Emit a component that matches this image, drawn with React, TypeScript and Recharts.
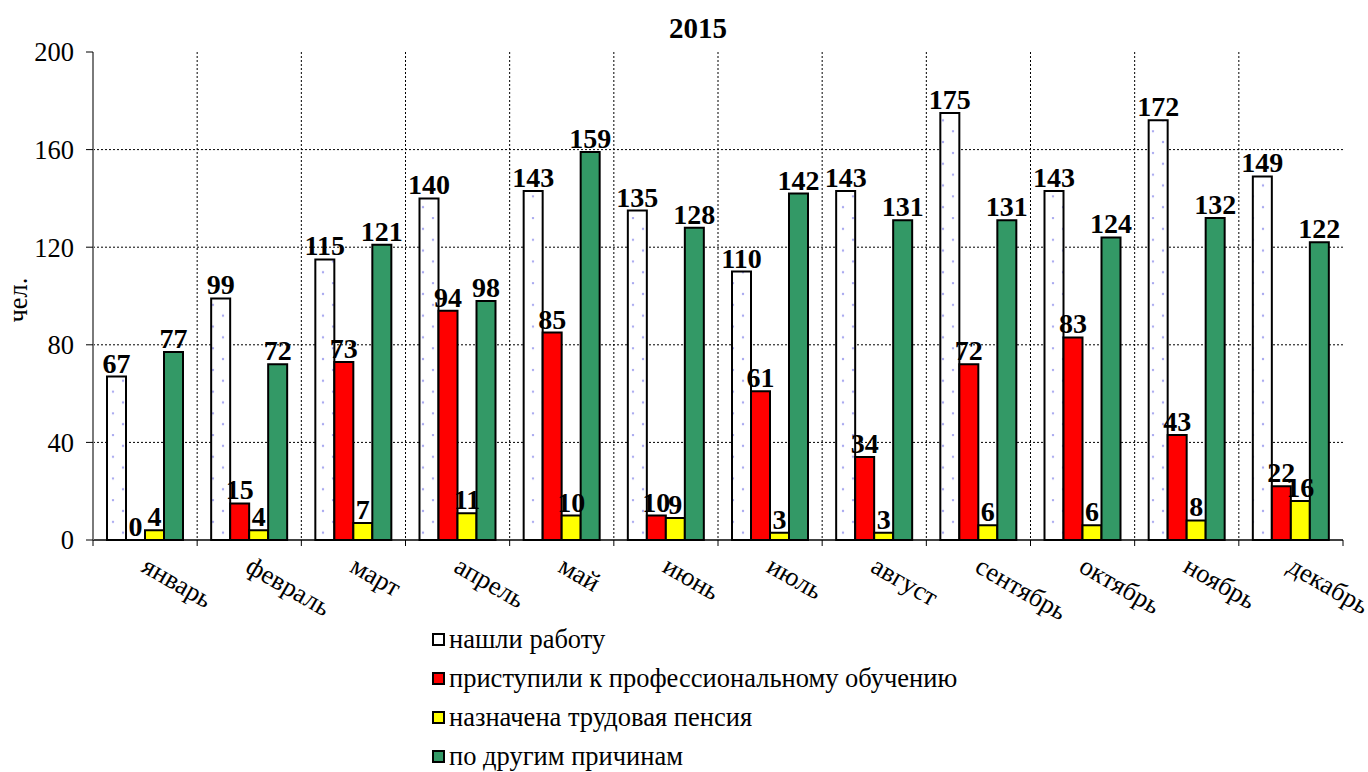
import { BarChart, Bar, XAxis, YAxis, CartesianGrid, LabelList } from "recharts";

const months = [
  "январь",
  "февраль",
  "март",
  "апрель",
  "май",
  "июнь",
  "июль",
  "август",
  "сентябрь",
  "октябрь",
  "ноябрь",
  "декабрь",
];
const foundJob = [67, 99, 115, 140, 143, 135, 110, 143, 175, 143, 172, 149];
const training = [0, 15, 73, 94, 85, 10, 61, 34, 72, 83, 43, 22];
const pension = [4, 4, 7, 11, 10, 9, 3, 3, 6, 6, 8, 16];
const other = [77, 72, 121, 98, 159, 128, 142, 131, 131, 124, 132, 122];
const yTicks = [0, 40, 80, 120, 160, 200];

const series = [
  { key: "found", name: "нашли работу", color: "url(#dots)", swatch: "#ffffff" },
  { key: "training", name: "приступили к профессиональному обучению", color: "#ff0000", swatch: "#ff0000" },
  { key: "pension", name: "назначена трудовая пенсия", color: "#ffff00", swatch: "#ffff00" },
  { key: "other", name: "по другим причинам", color: "#339966", swatch: "#339966" },
];

const data = months.map((m, i) => ({
  m,
  found: foundJob[i],
  training: training[i],
  pension: pension[i],
  other: other[i],
}));

const W = 1368;
const H = 772;
const PLOT_RIGHT = 1343;
const PLOT_LEFT = 93;
const PLOT_TOP = 52;
const PLOT_BOTTOM = 540;
const BAND = (PLOT_RIGHT - PLOT_LEFT) / months.length;
const FONT = "Liberation Serif";
const FS = 26.5;

// zero values still get a (practically invisible) bar so the "0" label is drawn
const zeroSize = (v: any) => (v === 0 ? 0.01 : 0);

function MonthTick(props: any) {
  const { x, payload } = props;
  const i = months.indexOf(payload.value);
  const tx = x - 5;
  const ty = PLOT_BOTTOM + 31;
  return (
    <g>
      <line x1={x - BAND / 2} x2={x - BAND / 2} y1={PLOT_BOTTOM} y2={PLOT_BOTTOM + 6} stroke="#000" />
      {i === months.length - 1 && (
        <line x1={x + BAND / 2} x2={x + BAND / 2} y1={PLOT_BOTTOM} y2={PLOT_BOTTOM + 6} stroke="#000" />
      )}
      <text
        x={tx}
        y={ty}
        transform={`rotate(30 ${tx} ${ty})`}
        style={{ fontFamily: FONT, fontSize: FS }}
        fill="#000"
      >
        {payload.value}
      </text>
    </g>
  );
}

export default function App() {
  return (
    <div
      style={{
        position: "absolute",
        left: 0,
        top: 0,
        width: W,
        height: H,
        background: "#fff",
        fontFamily: FONT,
        overflow: "hidden",
      }}
    >
      <svg width={0} height={0} style={{ position: "absolute" }}>
        <defs>
          <pattern id="dots" patternUnits="userSpaceOnUse" width={20} height={21.7}>
            <rect width={20} height={21.7} fill="#ffffff" />
            <circle cx={13} cy={1.1} r={1.2} fill="#a8a8f0" />
            <circle cx={3} cy={11.9} r={1.2} fill="#a8a8f0" />
          </pattern>
        </defs>
      </svg>

      {/* title */}
      <div
        style={{
          position: "absolute",
          left: 0,
          width: 1396,
          top: 12,
          textAlign: "center",
          fontWeight: "bold",
          fontSize: 29,
          lineHeight: "32px",
        }}
      >
        2015
      </div>

      {/* y axis title */}
      <div
        style={{
          position: "absolute",
          left: 18,
          top: 300,
          fontSize: FS,
          lineHeight: "30px",
          transform: "translate(-50%, -50%) rotate(-90deg)",
          whiteSpace: "nowrap",
        }}
      >
        чел.
      </div>

      <BarChart
        width={W}
        height={H}
        data={data}
        margin={{ top: PLOT_TOP, right: W - PLOT_RIGHT, left: PLOT_LEFT - 60, bottom: 0 }}
        barCategoryGap={14}
        barGap={0}
        style={{ fontFamily: FONT }}
      >
        <CartesianGrid
          stroke="#000"
          strokeDasharray="2 2"
          horizontalValues={[40, 80, 120, 160]}
          verticalCoordinatesGenerator={({ offset }: any) =>
            months.slice(1).map((_, i) => offset.left + ((i + 1) * offset.width) / months.length)
          }
        />
        <XAxis
          dataKey="m"
          height={H - PLOT_BOTTOM}
          interval={0}
          tickLine={false}
          tick={<MonthTick />}
          axisLine={{ stroke: "#000", strokeWidth: 1.5 }}
        />
        <XAxis
          xAxisId="top"
          dataKey="m"
          orientation="top"
          height={0}
          tick={false}
          tickLine={false}
          axisLine={{ stroke: "#8c8c8c", strokeWidth: 2 }}
        />
        <YAxis
          width={60}
          domain={[0, 200]}
          ticks={yTicks}
          interval={0}
          tickSize={7}
          tickMargin={12}
          axisLine={{ stroke: "#7a7a7a", strokeWidth: 2 }}
          tickLine={{ stroke: "#000" }}
          tick={{ fill: "#000", fontSize: FS, style: { fontFamily: FONT } }}
        />
        <YAxis
          yAxisId="right"
          orientation="right"
          width={0}
          domain={[0, 200]}
          tick={false}
          tickLine={false}
          axisLine={{ stroke: "#8c8c8c", strokeWidth: 2 }}
        />
        {series.map((s) => (
          <Bar
            key={s.key}
            dataKey={s.key}
            name={s.name}
            fill={s.color}
            stroke="#000"
            strokeWidth={2}
            minPointSize={zeroSize}
            isAnimationActive={false}
          >
            <LabelList
              dataKey={s.key}
              position="top"
              offset={4}
              fill="#000"
              style={{ fontFamily: FONT, fontSize: 28, fontWeight: "bold" }}
            />
          </Bar>
        ))}
      </BarChart>

      {/* legend */}
      <div style={{ position: "absolute", left: 432, top: 620 }}>
        {series.map((s) => (
          <div
            key={s.key}
            style={{ display: "flex", alignItems: "center", height: 39, fontSize: FS }}
          >
            <div
              style={{
                width: 9,
                height: 9,
                border: "2px solid #000",
                background: s.swatch,
                marginRight: 4,
                boxSizing: "content-box",
              }}
            />
            <span>{s.name}</span>
          </div>
        ))}
      </div>
    </div>
  );
}
